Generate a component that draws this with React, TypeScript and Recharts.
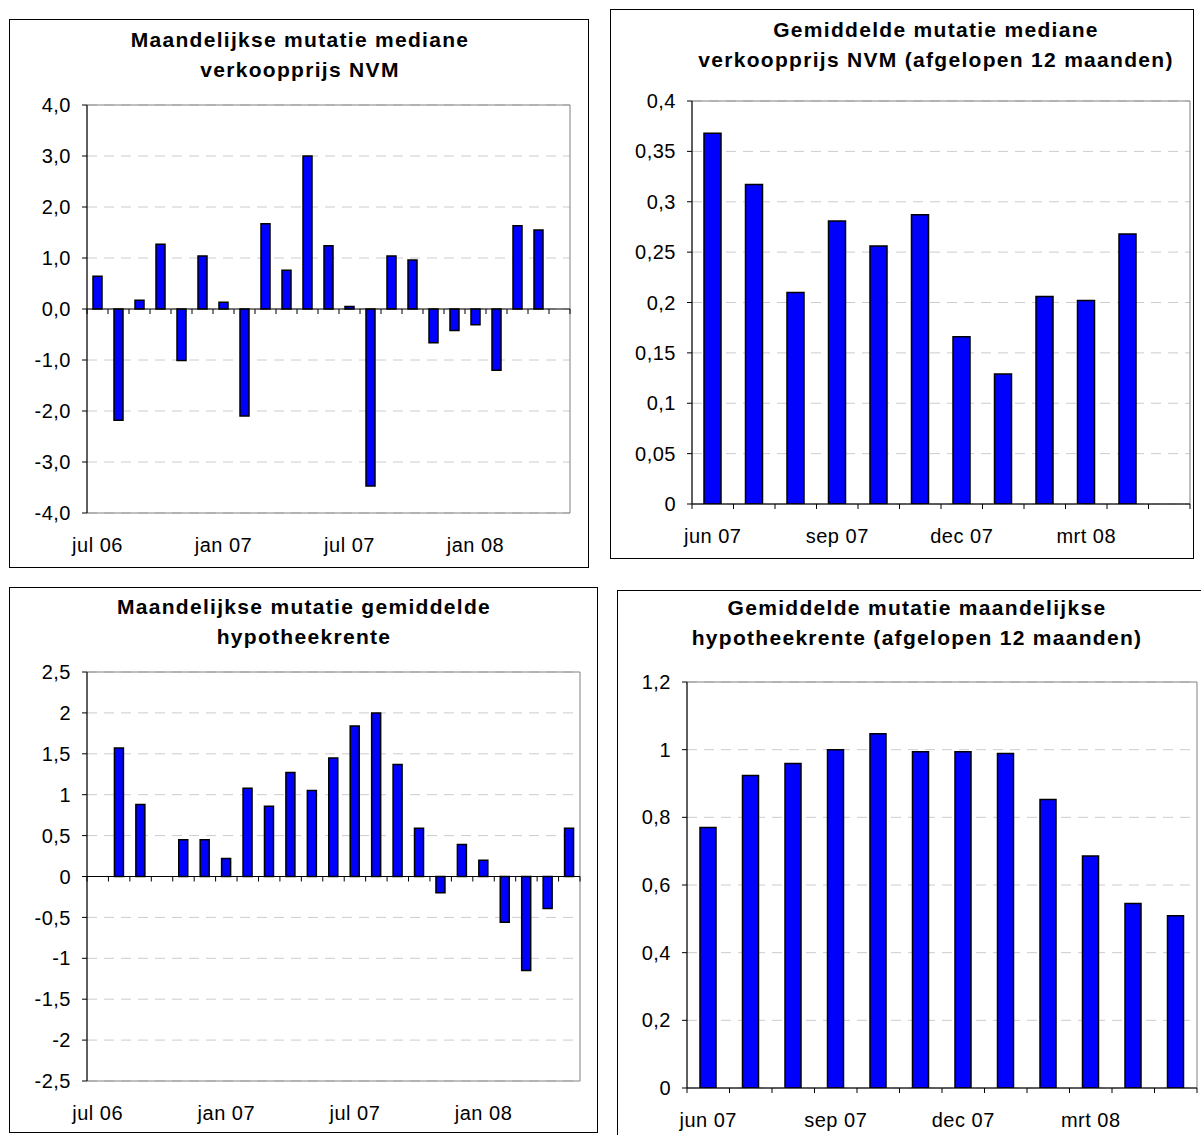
import React from 'react';
import { BarChart, Bar, XAxis, YAxis, CartesianGrid, ReferenceLine, ReferenceArea } from 'recharts';

// ---------- data ----------
const monthsLong = [
  'jul 06', 'aug 06', 'sep 06', 'okt 06', 'nov 06', 'dec 06', 'jan 07', 'feb 07', 'mrt 07', 'apr 07', 'mei 07', 'jun 07',
  'jul 07', 'aug 07', 'sep 07', 'okt 07', 'nov 07', 'dec 07', 'jan 08', 'feb 08', 'mrt 08', 'apr 08', 'mei 08',
];
const monthsShort = ['jun 07', 'jul 07', 'aug 07', 'sep 07', 'okt 07', 'nov 07', 'dec 07', 'jan 08', 'feb 08', 'mrt 08', 'apr 08', 'mei 08'];

const verkoopprijsMaand = [0.64, -2.18, 0.17, 1.27, -1.01, 1.04, 0.13, -2.1, 1.67, 0.76, 3.0, 1.24, 0.05, -3.47, 1.04, 0.96, -0.66, -0.42, -0.31, -1.2, 1.63, 1.55, null];
const verkoopprijsGem = [0.368, 0.317, 0.21, 0.281, 0.256, 0.287, 0.166, 0.129, 0.206, 0.202, 0.268, null];
const renteMaand = [null, 1.57, 0.88, null, 0.45, 0.45, 0.22, 1.08, 0.86, 1.27, 1.05, 1.45, 1.84, 2.0, 1.37, 0.59, -0.2, 0.39, 0.2, -0.56, -1.15, -0.39, 0.59];
const renteGem = [0.77, 0.924, 0.959, 1.0, 1.047, 0.994, 0.994, 0.989, 0.853, 0.686, 0.545, 0.509];

const labelsLong = ['jul 06', 'jan 07', 'jul 07', 'jan 08'];
const labelsShort = ['jun 07', 'sep 07', 'dec 07', 'mrt 08'];

const ticksP1 = [-4, -3, -2, -1, 0, 1, 2, 3, 4];
const ticksP2 = [0, 0.05, 0.1, 0.15, 0.2, 0.25, 0.3, 0.35, 0.4];
const ticksP3 = [-2.5, -2, -1.5, -1, -0.5, 0, 0.5, 1, 1.5, 2, 2.5];
const ticksP4 = [0, 0.2, 0.4, 0.6, 0.8, 1, 1.2];

const titleP1 = ['Maandelijkse mutatie mediane', 'verkoopprijs NVM'];
const titleP2 = ['Gemiddelde mutatie mediane', 'verkoopprijs NVM (afgelopen 12 maanden)'];
const titleP3 = ['Maandelijkse mutatie gemiddelde', 'hypotheekrente'];
const titleP4 = ['Gemiddelde mutatie maandelijkse', 'hypotheekrente (afgelopen 12 maanden)'];

const zip = (cats: string[], vals: (number | null)[]) => cats.map((c, i) => ({ cat: c, v: vals[i] }));

const fmtOneDec = (v: number) => v.toFixed(1).replace('.', ',');
const fmtPlain = (v: number) => String(v).replace('.', ',');

// ---------- layout ----------
const FONT = '"Liberation Sans", Arial, sans-serif';
const YW = 80;
const MT = 10;
const MR = 10;
const XH = 60;

type Cfg = {
  box: { left: number; top: number; width: number; height: number };
  title: string[];
  titleCx: number;
  titleTop: number;
  plot: { L: number; R: number; T: number; B: number };
  data: { cat: string; v: number | null }[];
  ticks: number[];
  fmt: (v: number) => string;
  labels: string[];
  barSize: number;
  labelOffset: number;
};

const panels: Cfg[] = [
  {
    box: { left: 9, top: 19, width: 580, height: 549 },
    title: titleP1,
    titleCx: 300,
    titleTop: 25,
    plot: { L: 87, R: 570, T: 105, B: 513 },
    data: zip(monthsLong, verkoopprijsMaand),
    ticks: ticksP1,
    fmt: fmtOneDec,
    labels: labelsLong,
    barSize: 9,
    labelOffset: 38.5,
  },
  {
    box: { left: 610, top: 9, width: 584, height: 550 },
    title: titleP2,
    titleCx: 936,
    titleTop: 15,
    plot: { L: 692, R: 1190, T: 101, B: 504 },
    data: zip(monthsShort, verkoopprijsGem),
    ticks: ticksP2,
    fmt: fmtPlain,
    labels: labelsShort,
    barSize: 17,
    labelOffset: 39,
  },
  {
    box: { left: 9, top: 587, width: 589, height: 546 },
    title: titleP3,
    titleCx: 304,
    titleTop: 592,
    plot: { L: 87, R: 580, T: 672, B: 1081 },
    data: zip(monthsLong, renteMaand),
    ticks: ticksP3,
    fmt: fmtPlain,
    labels: labelsLong,
    barSize: 9,
    labelOffset: 38.5,
  },
  {
    box: { left: 617, top: 590, width: 600, height: 560 },
    title: titleP4,
    titleCx: 917,
    titleTop: 593,
    plot: { L: 687, R: 1197, T: 682, B: 1088 },
    data: zip(monthsShort, renteGem),
    ticks: ticksP4,
    fmt: fmtPlain,
    labels: labelsShort,
    barSize: 16,
    labelOffset: 39,
  },
];

function Panel({ cfg }: { cfg: Cfg }) {
  const { L, R, T, B } = cfg.plot;
  const plotW = R - L;
  const plotH = B - T;
  const chartW = plotW + YW + MR;
  const chartH = plotH + MT + XH;
  const min = cfg.ticks[0];
  const max = cfg.ticks[cfg.ticks.length - 1];
  const n = cfg.data.length;
  const zeroY = MT + (plotH * max) / (max - min);
  const half = plotW / n / 2;
  const labelY = MT + plotH + cfg.labelOffset;

  const renderTick = (p: any) => {
    const { x, payload, index } = p;
    return (
      <g>
        <line x1={x - half} x2={x - half} y1={zeroY} y2={zeroY + 5} stroke="#000" strokeWidth={1} />
        {index === n - 1 && <line x1={x + half} x2={x + half} y1={zeroY} y2={zeroY + 5} stroke="#000" strokeWidth={1} />}
        {cfg.labels.includes(payload.value) && (
          <text x={x} y={labelY} textAnchor="middle" fontSize={20} fontFamily={FONT} letterSpacing={0.5} fill="#000">
            {payload.value}
          </text>
        )}
      </g>
    );
  };

  return (
    <>
      <div
        style={{
          position: 'absolute',
          left: cfg.box.left,
          top: cfg.box.top,
          width: cfg.box.width,
          height: cfg.box.height,
          border: '1px solid #000',
          boxSizing: 'border-box',
        }}
      />
      <div
        style={{
          position: 'absolute',
          left: cfg.titleCx - 350,
          width: 700,
          top: cfg.titleTop,
          textAlign: 'center',
          fontFamily: FONT,
          fontWeight: 'bold',
          fontSize: 21,
          lineHeight: '30px',
          letterSpacing: '1.3px',
          whiteSpace: 'nowrap',
          color: '#000',
        }}
      >
        {cfg.title[0]}
        <br />
        {cfg.title[1]}
      </div>
      <div style={{ position: 'absolute', left: L - YW, top: T - MT }}>
        <BarChart width={chartW} height={chartH} data={cfg.data} margin={{ top: MT, right: MR, bottom: 0, left: 0 }} barCategoryGap={0}>
          <CartesianGrid vertical={false} stroke="#cccccc" strokeDasharray="10 7" />
          <ReferenceArea y1={min} y2={max} fill="none" stroke="#808080" strokeWidth={1} />
          <XAxis dataKey="cat" interval={0} axisLine={false} tickLine={false} tick={renderTick} height={XH} />
          <YAxis
            domain={[min, max]}
            ticks={cfg.ticks}
            interval={0}
            width={YW}
            tickFormatter={cfg.fmt}
            tickSize={5}
            tickMargin={11}
            axisLine={{ stroke: '#000' }}
            tickLine={{ stroke: '#000' }}
            tick={{ fontSize: 20, fill: '#000', fontFamily: FONT, letterSpacing: 0.5 }}
            allowDataOverflow
          />
          <Bar dataKey="v" fill="#0000ff" stroke="#000" strokeWidth={1.5} barSize={cfg.barSize} isAnimationActive={false} />
          <ReferenceLine y={0} stroke="#000" strokeWidth={1} />
        </BarChart>
      </div>
    </>
  );
}

export default function App() {
  return (
    <div style={{ position: 'fixed', left: 0, top: 0, width: 1201, height: 1135, overflow: 'hidden', background: '#fff' }}>
      {panels.map((p, i) => (
        <Panel key={i} cfg={p} />
      ))}
    </div>
  );
}
